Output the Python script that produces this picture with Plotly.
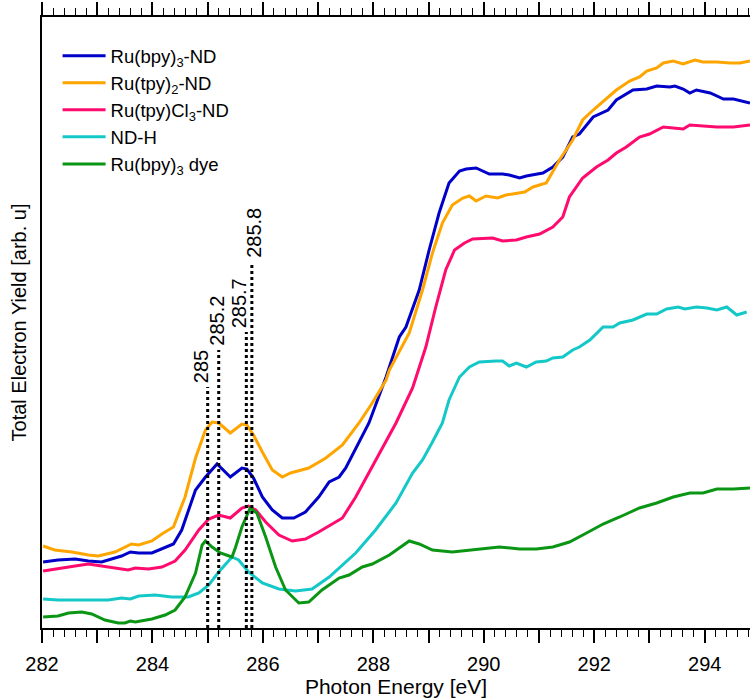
import plotly.graph_objects as go

# C K-edge NEXAFS, total electron yield (arbitrary units, offset traces)
e_bpy_nd = [282.02, 282.29, 282.60, 282.84, 283.08, 283.26, 283.44, 283.60, 283.75, 283.99,
            284.20, 284.38, 284.53, 284.78, 284.96, 285.17, 285.41, 285.62, 285.71, 285.83,
            285.99, 286.17, 286.35, 286.56, 286.77, 287.01, 287.20, 287.38, 287.50, 287.68,
            287.92, 288.23, 288.47, 288.59, 288.83, 289.01, 289.19, 289.37, 289.56, 289.68,
            289.86, 290.10, 290.34, 290.46, 290.65, 290.77, 291.07, 291.25, 291.43, 291.61,
            291.73, 291.98, 292.16, 292.25, 292.40, 292.70, 292.95, 293.13, 293.37, 293.46,
            293.61, 293.73, 293.85, 294.10, 294.34, 294.52, 294.82]
y_bpy_nd = [0.66, 0.68, 0.69, 0.67, 0.66, 0.69, 0.72, 0.76, 0.75, 0.75,
            0.80, 0.84, 0.98, 1.38, 1.51, 1.64, 1.51, 1.60, 1.59, 1.50,
            1.31, 1.18, 1.10, 1.10, 1.16, 1.31, 1.46, 1.51, 1.60, 1.80,
            2.05, 2.51, 2.91, 3.01, 3.38, 3.78, 4.15, 4.45, 4.57, 4.59,
            4.60, 4.54, 4.54, 4.53, 4.50, 4.52, 4.55, 4.61, 4.71, 4.91,
            4.94, 5.11, 5.16, 5.18, 5.28, 5.38, 5.39, 5.42, 5.41, 5.42,
            5.39, 5.35, 5.38, 5.35, 5.29, 5.29, 5.25]

e_tpy2_nd = [282.02, 282.23, 282.54, 282.84, 283.02, 283.32, 283.62, 283.75, 283.99, 284.17,
             284.38, 284.59, 284.78, 284.96, 285.08, 285.20, 285.41, 285.62, 285.71, 285.83,
             285.99, 286.17, 286.35, 286.50, 286.83, 287.14, 287.44, 287.74, 287.98, 288.23,
             288.29, 288.65, 288.89, 289.07, 289.25, 289.43, 289.62, 289.74, 289.86, 290.04,
             290.25, 290.40, 290.74, 290.89, 291.13, 291.37, 291.61, 291.79, 291.98, 292.25,
             292.40, 292.64, 292.82, 292.95, 293.13, 293.25, 293.43, 293.61, 293.82, 293.97,
             294.22, 294.46, 294.64, 294.82]
y_tpy2_nd = [0.82, 0.78, 0.76, 0.73, 0.72, 0.76, 0.84, 0.83, 0.87, 0.94,
             1.01, 1.31, 1.70, 1.98, 2.06, 2.05, 1.95, 2.04, 2.03, 1.93,
             1.76, 1.58, 1.51, 1.55, 1.60, 1.70, 1.83, 2.05, 2.25, 2.48,
             2.58, 2.95, 3.38, 3.75, 4.05, 4.23, 4.30, 4.32, 4.27, 4.32,
             4.30, 4.33, 4.36, 4.41, 4.45, 4.68, 4.88, 5.08, 5.18, 5.31,
             5.38, 5.47, 5.51, 5.57, 5.60, 5.65, 5.67, 5.64, 5.68, 5.66,
             5.66, 5.65, 5.65, 5.67]

e_tpycl3_nd = [282.02, 282.29, 282.60, 282.84, 283.08, 283.32, 283.56, 283.69, 283.93, 284.17,
               284.41, 284.59, 284.84, 285.02, 285.20, 285.41, 285.62, 285.74, 285.87, 286.05,
               286.29, 286.53, 286.77, 287.01, 287.20, 287.44, 287.68, 288.04, 288.41, 288.71,
               288.95, 289.13, 289.31, 289.47, 289.65, 289.80, 290.16, 290.34, 290.59, 290.77,
               291.01, 291.25, 291.43, 291.55, 291.79, 292.04, 292.25, 292.40, 292.58, 292.82,
               293.00, 293.25, 293.61, 293.73, 293.97, 294.22, 294.52, 294.82]
y_tpycl3_nd = [0.57, 0.59, 0.62, 0.64, 0.62, 0.60, 0.58, 0.60, 0.59, 0.61,
               0.67, 0.78, 0.98, 1.09, 1.13, 1.10, 1.20, 1.22, 1.18, 1.06,
               0.93, 0.87, 0.89, 0.96, 1.02, 1.10, 1.31, 1.68, 2.05, 2.40,
               2.81, 3.21, 3.58, 3.78, 3.85, 3.89, 3.90, 3.87, 3.88, 3.91,
               3.94, 4.01, 4.11, 4.31, 4.50, 4.61, 4.68, 4.75, 4.81, 4.91,
               4.94, 5.01, 4.99, 5.03, 5.02, 5.01, 5.01, 5.03]

e_nd_h = [282.02, 282.29, 282.60, 282.90, 283.20, 283.44, 283.60, 283.75, 284.05, 284.35,
          284.65, 284.84, 285.02, 285.20, 285.44, 285.56, 285.74, 285.99, 286.29, 286.59,
          286.89, 287.20, 287.44, 287.68, 288.04, 288.41, 288.71, 288.89, 289.07, 289.25,
          289.37, 289.53, 289.56, 289.74, 289.92, 290.22, 290.34, 290.46, 290.59, 290.77,
          290.95, 291.13, 291.25, 291.43, 291.61, 291.73, 291.92, 292.16, 292.34, 292.46,
          292.70, 292.95, 293.13, 293.31, 293.52, 293.64, 293.85, 294.04, 294.22, 294.40,
          294.58, 294.76]
y_nd_h = [0.29, 0.28, 0.28, 0.28, 0.28, 0.30, 0.29, 0.32, 0.33, 0.31,
          0.31, 0.35, 0.43, 0.56, 0.71, 0.68, 0.56, 0.45, 0.39, 0.37,
          0.39, 0.51, 0.63, 0.75, 0.98, 1.25, 1.55, 1.68, 1.86, 2.05,
          2.28, 2.48, 2.51, 2.61, 2.66, 2.67, 2.67, 2.62, 2.65, 2.61,
          2.66, 2.67, 2.70, 2.71, 2.78, 2.81, 2.88, 3.01, 3.01, 3.05,
          3.08, 3.14, 3.14, 3.19, 3.21, 3.19, 3.21, 3.20, 3.18, 3.21,
          3.13, 3.16]

e_bpy_dye = [282.02, 282.29, 282.48, 282.72, 282.90, 283.14, 283.38, 283.50, 283.60, 283.69,
             283.99, 284.23, 284.41, 284.59, 284.78, 284.90, 284.96, 285.08, 285.23, 285.44,
             285.50, 285.62, 285.77, 285.89, 286.05, 286.23, 286.41, 286.65, 286.83, 287.07,
             287.38, 287.56, 287.80, 287.98, 288.29, 288.65, 288.83, 289.07, 289.43, 289.80,
             290.28, 290.65, 290.95, 291.25, 291.55, 291.86, 292.16, 292.46, 292.82, 293.13,
             293.43, 293.73, 293.97, 294.22, 294.52, 294.82]
y_bpy_dye = [0.11, 0.12, 0.15, 0.16, 0.14, 0.08, 0.05, 0.05, 0.07, 0.06,
             0.09, 0.13, 0.18, 0.31, 0.55, 0.83, 0.87, 0.81, 0.75, 0.71,
             0.80, 1.01, 1.20, 1.15, 0.91, 0.61, 0.38, 0.25, 0.26, 0.38,
             0.50, 0.53, 0.61, 0.64, 0.73, 0.87, 0.84, 0.78, 0.76, 0.78,
             0.81, 0.79, 0.79, 0.81, 0.86, 0.95, 1.04, 1.11, 1.20, 1.25,
             1.31, 1.35, 1.35, 1.39, 1.39, 1.40]

# Marked resonance energies and the height reached by each marker line
peak_energies = [285.0, 285.2, 285.7, 285.8]
peak_labels = ["285", "285.2", "285.7", "285.8"]
peak_tops = [2.41, 2.78, 2.96, 3.66]
label_xshift = [-7, -2, -7, 2]

# Major ticks every 1 eV, labelled every 2 eV
tick_values = list(range(282, 295))
tick_texts = [str(v) if v % 2 == 0 else "" for v in tick_values]

series = [
    ("Ru(bpy)<sub>3</sub>-ND", e_bpy_nd, y_bpy_nd, "#0000c8"),
    ("Ru(tpy)<sub>2</sub>-ND", e_tpy2_nd, y_tpy2_nd, "#ffa500"),
    ("Ru(tpy)Cl<sub>3</sub>-ND", e_tpycl3_nd, y_tpycl3_nd, "#ff0a6e"),
    ("ND-H", e_nd_h, y_nd_h, "#14c8c8"),
    ("Ru(bpy)<sub>3</sub> dye", e_bpy_dye, y_bpy_dye, "#0a9614"),
]

FONT = "Arial, Liberation Sans, sans-serif"

fig = go.Figure()

for name, xs, ys, color in series:
    fig.add_trace(go.Scatter(x=xs, y=ys, mode="lines", name=name,
                             line=dict(color=color, width=3)))

for e, top, lab, dx in zip(peak_energies, peak_tops, peak_labels, label_xshift):
    fig.add_shape(type="line", x0=e, x1=e, y0=0, y1=top, xref="x", yref="y",
                  line=dict(color="black", width=3, dash="dot"))
    fig.add_annotation(x=e, y=top, text=lab, textangle=-90, showarrow=False,
                       xanchor="center", yanchor="bottom", xshift=dx, yshift=2,
                       font=dict(family=FONT, size=20, color="black"))

fig.update_layout(
    width=750, height=700,
    margin=dict(l=42, r=0, t=17, b=72),
    paper_bgcolor="white", plot_bgcolor="white",
    font=dict(family=FONT, size=20, color="black"),
    showlegend=True,
    legend=dict(x=0.022, y=0.967, xanchor="left", yanchor="top",
                bgcolor="rgba(0,0,0,0)", font=dict(family=FONT, size=18.5),
                tracegroupgap=0, itemwidth=43),
)

fig.update_xaxes(
    range=[282, 294.82], showgrid=False, zeroline=False,
    showline=True, linecolor="black", linewidth=1.5, mirror="ticks",
    ticks="outside", ticklen=13, tickwidth=1.5, tickcolor="black",
    tickmode="array", tickvals=tick_values, ticktext=tick_texts,
    ticklabelstandoff=4,
    minor=dict(ticks="outside", ticklen=7, tickwidth=1.2, tickcolor="black", dtick=0.2, tick0=282),
    tickfont=dict(family=FONT, size=20),
    title=dict(text="Photon Energy [eV]", font=dict(family=FONT, size=21), standoff=4),
)
fig.update_yaxes(
    range=[0, 6.11], showgrid=False, zeroline=False,
    showline=True, linecolor="black", linewidth=1.5, mirror=False,
    showticklabels=False, ticks="",
    title=dict(text="Total Electron Yield [arb. u]", font=dict(family=FONT, size=20), standoff=8),
)

fig.write_html("out.html")
